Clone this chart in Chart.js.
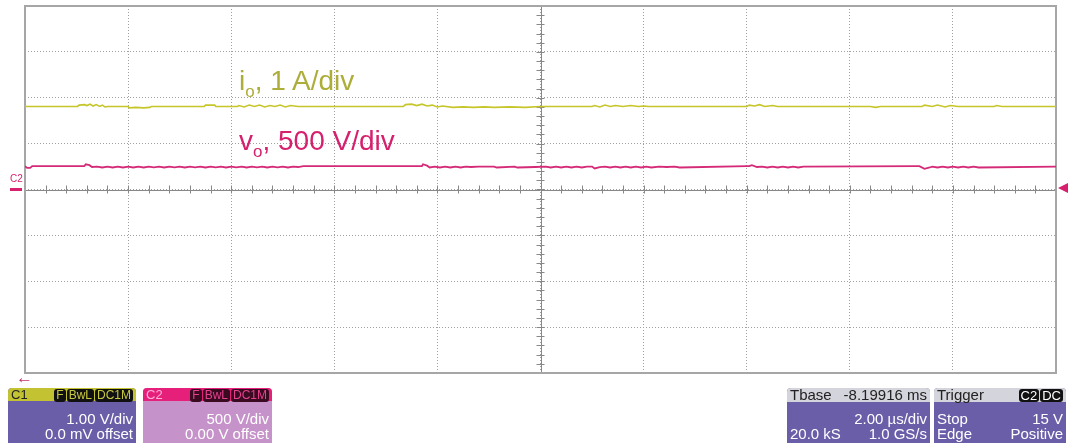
<!DOCTYPE html>
<html>
<head>
<meta charset="utf-8">
<script src="https://cdn.jsdelivr.net/npm/chart.js@4.4.1/dist/chart.umd.min.js"></script>
<style>
  html,body{margin:0;padding:0;background:#fff;}
  #wrap{position:relative;width:1069px;height:443px;overflow:hidden;font-family:"Liberation Sans",Arial,sans-serif;}
  canvas{position:absolute;left:0;top:0;}
  .lbl{position:absolute;font-size:28px;white-space:nowrap;line-height:1;}
  .lbl sub{font-size:17px;vertical-align:-7px;}
  .box{position:absolute;top:388px;height:60px;border-radius:4px;overflow:hidden;font-size:15px;color:#fff;}
  .hdr{height:13px;position:relative;font-size:13px;}
  .row{position:absolute;left:0;right:0;height:16px;line-height:16px;}
  .l{position:absolute;left:3px;}
  .r{position:absolute;right:3px;}
  .hdr .l,.hdr .r{top:-1px;line-height:15px;}
  .badge{display:inline-block;background:#111;border-radius:3px;padding:0 2px;margin-left:1px;line-height:13px;font-size:12px;}
</style>
</head>
<body>
<div id="wrap">
  <canvas id="c" width="1069" height="443"></canvas>
  <div class="lbl" style="left:239px;top:67px;color:#adad3a;">i<sub>o</sub>, 1 A/div</div>
  <div class="lbl" style="left:239px;top:127px;color:#d6206e;">v<sub>o</sub>, 500 V/div</div>
  <div style="position:absolute;left:10px;top:173px;font-size:10px;color:#d81f6e;">C2</div>
  <div style="position:absolute;left:10px;top:188px;width:12px;height:3px;background:#d81f6e;"></div>
  <div style="position:absolute;left:1058px;top:183px;width:0;height:0;border-top:5px solid transparent;border-bottom:5px solid transparent;border-right:10px solid #d81f6e;"></div>
  <div style="position:absolute;left:16px;top:368px;font-size:17px;font-weight:bold;color:#c0306a;">&#8592;</div>

  <div class="box" style="left:8px;width:128px;background:#6a5ea8;">
    <div class="hdr" style="background:#c2c232;color:#222;">
      <span class="l">C1</span>
      <span class="r" style="color:#c8c840;"><span class="badge">F</span><span class="badge">BwL</span><span class="badge">DC1M</span></span>
    </div>
    <div class="row" style="top:23px;"><span class="r">1.00 V/div</span></div>
    <div class="row" style="top:38px;"><span class="r">0.0 mV offset</span></div>
  </div>
  <div class="box" style="left:143px;width:129px;background:#c592c9;">
    <div class="hdr" style="background:#e6207a;color:#ffb0d8;">
      <span class="l">C2</span>
      <span class="r" style="color:#e64090;"><span class="badge" style="background:#3a0a20;">F</span><span class="badge" style="background:#3a0a20;">BwL</span><span class="badge" style="background:#3a0a20;">DC1M</span></span>
    </div>
    <div class="row" style="top:23px;"><span class="r">500 V/div</span></div>
    <div class="row" style="top:38px;"><span class="r">0.00 V offset</span></div>
  </div>
  <div class="box" style="left:787px;width:143px;background:#6a5ea8;">
    <div class="hdr" style="background:#d4d4dc;color:#222;font-size:15px;height:14px;">
      <span class="l">Tbase</span>
      <span class="r">-8.19916 ms</span>
    </div>
    <div class="row" style="top:23px;"><span class="r">2.00 µs/div</span></div>
    <div class="row" style="top:38px;"><span class="l">20.0 kS</span><span class="r">1.0 GS/s</span></div>
  </div>
  <div class="box" style="left:934px;width:132px;background:#6a5ea8;">
    <div class="hdr" style="background:#d4d4dc;color:#222;font-size:15px;height:14px;">
      <span class="l">Trigger</span>
      <span class="r" style="color:#fff;"><span class="badge" style="font-size:13px;">C2</span><span class="badge" style="font-size:13px;">DC</span></span>
    </div>
    <div class="row" style="top:23px;"><span class="l">Stop</span><span class="r">15 V</span></div>
    <div class="row" style="top:38px;"><span class="l">Edge</span><span class="r">Positive</span></div>
  </div>
</div>
<script>
// time axis (µs) : 2 µs/div, 10 divisions
const xTicks = [-10,-8,-6,-4,-2,0,2,4,6,8,10];
// vertical axis in divisions
const yTicks = [-4,-3,-2,-1,0,1,2,3,4];

// io trace, position in divisions (1 A/div)
const ioTime = [-10,-8.98,-8.95,-8.85,-8.8,-8.74,-8.68,-8.62,-8.55,-8.5,-8.45,-8.4,-8.0,-7.98,-7.85,-7.7,-7.58,-7.55,-6.52,-6.5,-6.32,-6.3,-5.88,-5.85,-5.75,-5.65,-5.55,-5.45,-5.35,-5.25,-5.15,-5.05,-4.95,-4.85,-4.7,-2.66,-2.62,-2.5,-2.4,-2.3,-2.2,-2.1,-2.0,-1.9,-1.7,-1.5,-1.3,-1.1,-0.9,-0.6,-0.3,0,1.0,1.05,1.15,1.25,1.35,1.45,1.6,1.75,1.9,2.0,2.1,4.0,4.05,4.15,4.25,4.35,4.5,4.6,6.4,6.5,6.6,7.4,7.45,7.6,7.7,7.85,7.95,8.1,8.8,8.85,8.95,10];
const ioDiv  = [1.81,1.81,1.84,1.85,1.83,1.86,1.82,1.85,1.81,1.84,1.80,1.81,1.81,1.78,1.79,1.78,1.79,1.81,1.81,1.84,1.84,1.81,1.81,1.83,1.80,1.84,1.81,1.84,1.80,1.83,1.81,1.84,1.80,1.83,1.81,1.81,1.85,1.86,1.83,1.86,1.82,1.84,1.80,1.82,1.79,1.80,1.79,1.80,1.79,1.80,1.79,1.81,1.81,1.83,1.80,1.84,1.81,1.83,1.81,1.83,1.81,1.82,1.81,1.81,1.84,1.82,1.85,1.81,1.83,1.81,1.81,1.79,1.81,1.81,1.84,1.81,1.84,1.80,1.83,1.81,1.81,1.83,1.81,1.81];

// vo trace, volts (500 V/div)
const voTime = [-10,-9.96,-9.9,-9.86,-8.85,-8.82,-8.75,-8.7,-8.6,-8.5,-8.4,-8.3,-8.2,-8.1,-8.0,-7.9,-7.8,-7.7,-7.6,-7.5,-7.4,-7.3,-7.2,-7.1,-7.0,-6.9,-6.8,-6.7,-6.6,-6.5,-6.4,-6.3,-6.2,-6.1,-6.0,-5.9,-5.8,-5.7,-5.6,-5.5,-5.4,-5.3,-5.2,-5.1,-5.0,-4.9,-4.8,-4.7,-4.6,-2.3,-2.28,-2.2,-2.15,-2.05,-1.95,-1.85,-1.75,-1.65,-1.55,-1.45,-1.35,-1.2,-0.9,-0.85,-0.5,-0.45,-0.1,0.1,0.2,0.3,0.4,0.5,0.6,0.7,0.8,0.9,1.0,1.05,1.15,1.25,1.35,1.45,1.55,1.65,1.75,1.85,1.95,2.05,2.15,2.3,2.45,2.6,2.7,4.0,4.05,4.1,4.2,4.3,4.4,4.5,4.6,4.7,4.8,4.9,5.0,5.1,7.3,7.35,7.45,7.55,7.6,7.7,7.8,7.9,8.0,8.1,8.2,8.3,8.4,8.5,10];
const voVolt = [255,235,235,255,255,275,265,245,250,240,250,240,250,240,250,240,250,240,250,242,250,240,250,242,250,240,250,242,250,240,250,242,250,240,250,242,250,240,250,242,250,240,250,242,250,240,250,245,255,255,275,260,240,250,240,250,240,250,240,250,245,250,250,240,250,240,245,250,240,250,240,250,240,250,240,250,250,230,245,250,240,250,240,250,240,250,240,250,240,250,245,250,240,255,255,265,245,250,240,250,240,250,240,250,240,250,255,255,225,240,250,240,250,240,250,240,250,240,250,240,250,255];
const voPerDiv = 500;

const ioData = ioTime.map((t,i)=>({x:t,y:ioDiv[i]}));
const voData = voTime.map((t,i)=>({x:t,y:voVolt[i]/voPerDiv}));

const scopePlugin = {
  id:'scope',
  beforeDatasetsDraw(chart){
    const {ctx, chartArea:a, scales:{x,y}} = chart;
    ctx.save();
    const cx = x.getPixelForValue(0), cy = y.getPixelForValue(0);
    ctx.strokeStyle = '#888';
    ctx.lineWidth = 1;
    ctx.beginPath();
    ctx.moveTo(a.left, Math.round(cy)+0.5); ctx.lineTo(a.right, Math.round(cy)+0.5);
    ctx.moveTo(Math.round(cx)+0.5, a.top); ctx.lineTo(Math.round(cx)+0.5, a.bottom);
    for (let d=-10; d<=10.001; d+=0.4){
      const px = Math.round(x.getPixelForValue(d))+0.5;
      ctx.moveTo(px, cy-4); ctx.lineTo(px, cy+4);
    }
    for (let d=-4; d<=4.001; d+=0.2){
      const py = Math.round(y.getPixelForValue(d))+0.5;
      ctx.moveTo(cx-4, py); ctx.lineTo(cx+4, py);
    }
    ctx.stroke();
    ctx.strokeStyle = '#a6a6a6';
    ctx.lineWidth = 2;
    ctx.strokeRect(a.left, a.top, a.right-a.left, a.bottom-a.top);
    ctx.restore();
  }
};

new Chart(document.getElementById('c'), {
  type:'line',
  data:{datasets:[
    {data:ioData, borderColor:'#c6c62a', borderWidth:1.6, pointRadius:0, tension:0},
    {data:voData, borderColor:'#d42a78', borderWidth:1.8, pointRadius:0, tension:0}
  ]},
  options:{
    animation:false, responsive:false, maintainAspectRatio:false,
    layout:{padding:{left:25,top:6,right:13,bottom:70}},
    plugins:{legend:{display:false}, tooltip:{enabled:false}},
    scales:{
      x:{type:'linear', min:-10, max:10,
         afterBuildTicks(s){ s.ticks = xTicks.map(v=>({value:v})); },
         ticks:{display:false},
         grid:{color:'#a0a0a0', lineWidth:1, drawTicks:false},
         border:{display:false, dash:[1,2]}},
      y:{type:'linear', min:-4, max:4,
         afterBuildTicks(s){ s.ticks = yTicks.map(v=>({value:v})); },
         ticks:{display:false},
         grid:{color:'#a0a0a0', lineWidth:1, drawTicks:false},
         border:{display:false, dash:[1,2]}}
    }
  },
  plugins:[scopePlugin]
});
</script>
</body>
</html>
